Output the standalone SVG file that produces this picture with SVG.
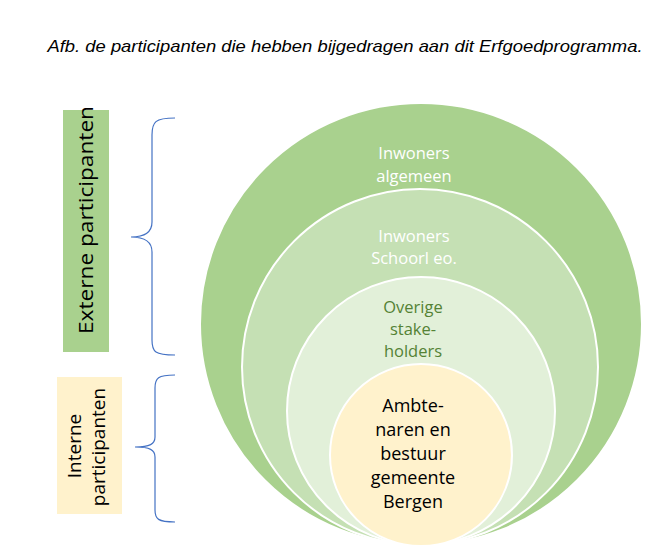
<svg xmlns="http://www.w3.org/2000/svg" width="655" height="556" viewBox="0 0 655 556">
<style>
text{font-family:"Open Sans","Liberation Sans",sans-serif;text-anchor:middle}
.c{stroke:#fff;stroke-width:2}
.w{fill:#fff;font-size:16.5px}
.g{fill:#548235;font-size:16.5px}
.k{fill:#000;font-size:18px}
.b{fill:none;stroke:#4472c4;stroke-width:1.2}
.v{font-size:20px;fill:#000}
</style>
<rect width="655" height="556" fill="#fff"/>
<text x="345" y="52" textLength="595" lengthAdjust="spacingAndGlyphs" style="font-style:italic;font-size:17px;font-family:'Liberation Sans',sans-serif">Afb. de participanten die hebben bijgedragen aan dit Erfgoedprogramma.</text>
<g id="extern"><rect x="63" y="110" width="46" height="242" fill="#a9d18e"/><text class="v" transform="translate(93,220) rotate(-90)" textLength="228" lengthAdjust="spacingAndGlyphs">Externe participanten</text></g>
<g id="intern"><rect x="57" y="377" width="65" height="137" fill="#fff2cc"/><text class="v" transform="translate(81,446) rotate(-90)" style="font-size:19px">Interne</text><text class="v" transform="translate(105,447) rotate(-90)" style="font-size:19px">participanten</text></g>
<g id="connectors">
<path class="b" d="M175,118 C155,118 152,122 152,135 L152,222 C152,232 145,237 131,237 C145,237 152,242 152,252 L152,340 C152,352 155,355 175,355"/>
<path class="b" d="M175,375 C158,375 155,378 155,388 L155,437 C155,444 150,447 135,447 C150,447 155,450 155,457 L155,510 C155,519 158,522 175,522"/>
</g>
<g id="algemeen"><circle class="c" cx="421" cy="324" r="221" fill="#a9d18e"/><text class="w" x="414" y="159">Inwoners</text><text class="w" x="414" y="182">algemeen</text></g>
<g id="schoorl"><circle class="c" cx="420" cy="367" r="178" fill="#c5e0b4"/><text class="w" x="414" y="242">Inwoners</text><text class="w" x="414" y="264">Schoorl eo.</text></g>
<g id="stakeholders"><circle class="c" cx="421" cy="411" r="134" fill="#e2f0d9"/><text class="g" x="413" y="313">Overige</text><text class="g" x="413" y="335">stake-</text><text class="g" x="413" y="357">holders</text></g>
<g id="ambtenaren"><circle class="c" cx="421" cy="455" r="91" fill="#fff2cc"/><text class="k" x="413" y="412">Ambte-</text><text class="k" x="413" y="436">naren en</text><text class="k" x="413" y="460">bestuur</text><text class="k" x="413" y="484">gemeente</text><text class="k" x="413" y="508">Bergen</text></g>
</svg>
